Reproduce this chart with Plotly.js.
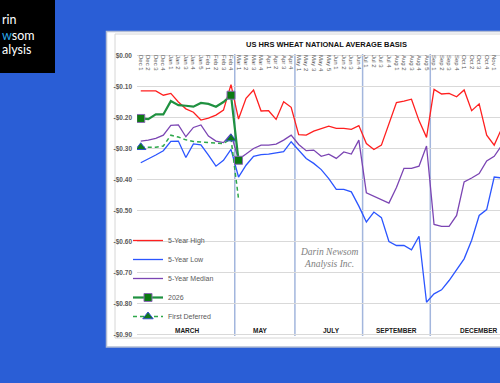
<!DOCTYPE html>
<html>
<head>
<meta charset="utf-8">
<script src="https://cdn.plot.ly/plotly-3.0.1.min.js"></script>
<style>
html,body{margin:0;padding:0;overflow:hidden;background:#2a5ed6;}
#chart{width:500px;height:383px;}
</style>
</head>
<body>
<div id="chart"></div>
<script>
// ---------- DATA ----------
const weeks = ['Dec 1','Dec 2','Dec 3','Dec 4','Jan 1','Jan 2','Jan 3','Jan 4','Jan 5',
  'Feb 1','Feb 2','Feb 3','Feb 4','Mar 1','Mar 2','Mar 3','Mar 4','Apr 1','Apr 2','Apr 3','Apr 4',
  'May 1','May 2','May 3','May 4','May 5','Jun 1','Jun 2','Jun 3','Jun 4',
  'Jul 1','Jul 2','Jul 3','Jul 4','Aug 1','Aug 2','Aug 3','Aug 4','Aug 5',
  'Sep 1','Sep 2','Sep 3','Sep 4','Oct 1','Oct 2','Oct 3','Oct 4','Nov 1','Nov 2'];

const high5 = [-0.114,-0.114,-0.114,-0.128,-0.122,-0.150,-0.172,-0.183,-0.208,
  -0.202,-0.192,-0.176,-0.094,-0.205,-0.138,-0.111,-0.179,-0.178,-0.206,-0.149,-0.167,
  -0.255,-0.257,-0.244,-0.237,-0.228,-0.235,-0.235,-0.238,-0.226,
  -0.284,-0.303,-0.289,-0.222,-0.152,-0.147,-0.141,-0.210,-0.264,
  -0.109,-0.124,-0.122,-0.133,-0.111,-0.178,-0.156,-0.257,-0.289,-0.235];

const low5 = [-0.346,-0.334,-0.321,-0.307,-0.277,-0.276,-0.329,-0.285,-0.288,
  -0.321,-0.357,-0.338,-0.303,-0.392,-0.354,-0.325,-0.320,-0.318,-0.315,-0.310,-0.278,
  -0.306,-0.332,-0.348,-0.368,-0.397,-0.432,-0.432,-0.440,-0.486,
  -0.537,-0.505,-0.523,-0.600,-0.613,-0.613,-0.627,-0.583,-0.796,
  -0.769,-0.756,-0.726,-0.691,-0.656,-0.596,-0.516,-0.497,-0.392,-0.395];

const median5 = [-0.276,-0.273,-0.267,-0.257,-0.225,-0.224,-0.262,-0.232,-0.224,
  -0.260,-0.276,-0.281,-0.253,-0.335,-0.318,-0.300,-0.289,-0.289,-0.286,-0.273,-0.257,
  -0.287,-0.307,-0.305,-0.325,-0.318,-0.332,-0.311,-0.318,-0.273,
  -0.443,-0.454,-0.464,-0.476,-0.426,-0.364,-0.364,-0.357,-0.292,
  -0.545,-0.551,-0.551,-0.516,-0.408,-0.395,-0.381,-0.340,-0.325,-0.290];

const y2026 = [-0.203,-0.205,-0.190,-0.190,-0.147,-0.160,-0.162,-0.165,-0.153,
  -0.156,-0.165,-0.150,-0.128,-0.338];

const firstDeferred = [-0.296,-0.296,-0.296,-0.292,-0.257,-0.263,-0.272,-0.277,-0.279,
  -0.279,-0.282,-0.284,-0.268,-0.462];

const marked2026 = ['Dec 1','Feb 4','Mar 1'];
const markedDeferred = ['Dec 1','Feb 4'];

const seriesNames = ['5-Year High','5-Year Low','5-Year Median','2026','First Deferred'];
const yTickVals = [0,-0.1,-0.2,-0.3,-0.4,-0.5,-0.6,-0.7,-0.8,-0.9];
const yTickText = ['$0.00','-$0.10','-$0.20','-$0.30','-$0.40','-$0.50','-$0.60','-$0.70','-$0.80','-$0.90'];
const contracts = ['MARCH','MAY','JULY','SEPTEMBER','DECEMBER'];
const chartTitle = 'US HRS WHEAT NATIONAL AVERAGE BASIS';
const logoLines = ['rin', '<span style="color:#2aa6ea">w</span>som', 'alysis'];
const watermark = '<i>Darin Newsom</i><br><i>Analysis Inc.</i>';

// ---------- LAYOUT GEOMETRY ----------
const W = 500, H = 383, ML = 137, MR = 0, MT = 54, MB = 47;
const PW = W - ML - MR, PH = H - MT - MB;
const pxX = v => (v - ML) / PW;          // pixel x -> paper fraction
const pxY = v => (H - MB - v) / PH;      // pixel y -> paper fraction
const FONT = 'Liberation Sans, Arial, sans-serif';
const CLEAR = 'rgba(0,0,0,0)';

function markArray(xs, list, on) { return xs.map(w => list.includes(w) ? on : CLEAR); }

const x2026 = weeks.slice(0, y2026.length);
const xDef = weeks.slice(0, firstDeferred.length);

const traces = [
  {x: weeks, y: high5, name: seriesNames[0], mode: 'lines', legendrank: 1,
   line: {color: '#ff1f1f', width: 1.3}},
  {x: weeks, y: low5, name: seriesNames[1], mode: 'lines', legendrank: 2,
   line: {color: '#2b55ff', width: 1.3}},
  {x: weeks, y: median5, name: seriesNames[2], mode: 'lines', legendrank: 3,
   line: {color: '#7b45b3', width: 1.3}},
  {x: xDef, y: firstDeferred, name: seriesNames[4], mode: 'lines+markers', legendrank: 5,
   line: {color: '#2ea84a', width: 1.5, dash: '4px,3px'},
   marker: {symbol: 'triangle-up', size: 9,
     color: markArray(xDef, markedDeferred, '#107a1a'),
     line: {color: markArray(xDef, markedDeferred, '#3552cc'), width: 1}}},
  {x: x2026, y: y2026, name: seriesNames[3], mode: 'lines+markers', legendrank: 4,
   line: {color: '#1f9140', width: 2.2},
   marker: {symbol: 'square', size: 8,
     color: markArray(x2026, marked2026, '#0c7a12'),
     line: {color: markArray(x2026, marked2026, '#8a6bb5'), width: 1}}}
];

const contractPos = [6.11, 15.92, 25.3, 33.98];
const sepPos = [12.5, 20.5, 29.5, 38.5];

const shapes = [
  {type: 'rect', xref: 'paper', yref: 'paper', layer: 'below',
   x0: pxX(106.5), x1: pxX(530), y0: pxY(347), y1: pxY(31.5),
   fillcolor: '#ffffff', line: {color: '#b3bdd4', width: 1.5}},
  {type: 'rect', xref: 'paper', yref: 'paper', layer: 'below',
   x0: pxX(115), x1: pxX(540), y0: pxY(338), y1: pxY(34),
   fillcolor: CLEAR, line: {color: '#d6d6d6', width: 1}},
  {type: 'rect', xref: 'paper', yref: 'paper', layer: 'below',
   x0: pxX(-5), x1: pxX(55), y0: pxY(73), y1: pxY(-5),
   fillcolor: '#000000', line: {width: 0}}
];
sepPos.forEach(p => shapes.push({
  type: 'line', xref: 'x', yref: 'paper', layer: 'below',
  x0: p, x1: p, y0: pxY(336), y1: 1,
  line: {color: '#a3b6dd', width: 1.5}
}));

const logoY = [20, 35, 50];
const annotations = logoLines.map((t, i) => ({
  xref: 'paper', yref: 'paper', x: pxX(0.5), y: pxY(logoY[i]), xanchor: 'left', yanchor: 'middle',
  text: t, showarrow: false, borderpad: 0,
  font: {family: 'Lato, Open Sans, sans-serif', size: 12.5, color: '#ffffff'}
}));
annotations.push({xref: 'x', yref: 'y', x: 25.02, y: -0.654, xanchor: 'center', yanchor: 'middle',
   text: watermark, showarrow: false,
   font: {family: 'Liberation Serif, DejaVu Serif, serif', size: 9.5, color: '#808080'}});
contracts.forEach((c, i) => {
  const last = i === contracts.length - 1;
  annotations.push({
    xref: last ? 'paper' : 'x', yref: 'paper',
    x: last ? pxX(499) : contractPos[i], y: pxY(330),
    xanchor: last ? 'right' : 'center', yanchor: 'middle',
    text: c, showarrow: false, borderpad: 0,
    font: {family: FONT, size: 6.5, color: '#1a1a1a', weight: 'bold'}
  });
});

const layout = {
  width: W, height: H,
  margin: {l: ML, r: MR, t: MT, b: MB, pad: 0, autoexpand: false},
  paper_bgcolor: '#2a5ed6',
  plot_bgcolor: CLEAR,
  font: {family: FONT, color: '#595959'},
  title: {text: chartTitle, xref: 'container', yref: 'container', x: 326.5 / W, xanchor: 'center',
          y: 1 - 44.5 / H, yanchor: 'middle', font: {family: FONT, size: 7.5, color: '#111111', weight: 'bold'}},
  showlegend: true,
  legend: {x: pxX(128), xanchor: 'left', y: pxY(226), yanchor: 'top',
           bgcolor: CLEAR, borderwidth: 0, font: {family: FONT, size: 7, color: '#595959'},
           itemwidth: 30, traceorder: 'normal', tracegroupgap: 0},
  xaxis: {type: 'category', categoryorder: 'array', categoryarray: weeks,
          range: [-0.5, 47.77], anchor: 'free', position: 1, side: 'bottom',
          tickmode: 'array', tickvals: weeks, ticktext: weeks,
          tickangle: 90, ticks: '', showgrid: false, zeroline: false,
          showline: false, automargin: false, fixedrange: true,
          tickfont: {family: FONT, size: 6, color: '#595959'}},
  yaxis: {range: [-0.905, 0.005], tickmode: 'array', tickvals: yTickVals, ticktext: yTickText,
          showgrid: true, gridcolor: '#d9d9d9', gridwidth: 1, zeroline: false, showline: false,
          ticks: '', ticklabelstandoff: 4, automargin: false, fixedrange: true,
          tickfont: {family: FONT, size: 6.5, color: '#595959', weight: 'bold'}},
  shapes: shapes,
  annotations: annotations
};

Plotly.newPlot('chart', traces, layout, {displayModeBar: false, staticPlot: true});
</script>
</body>
</html>
